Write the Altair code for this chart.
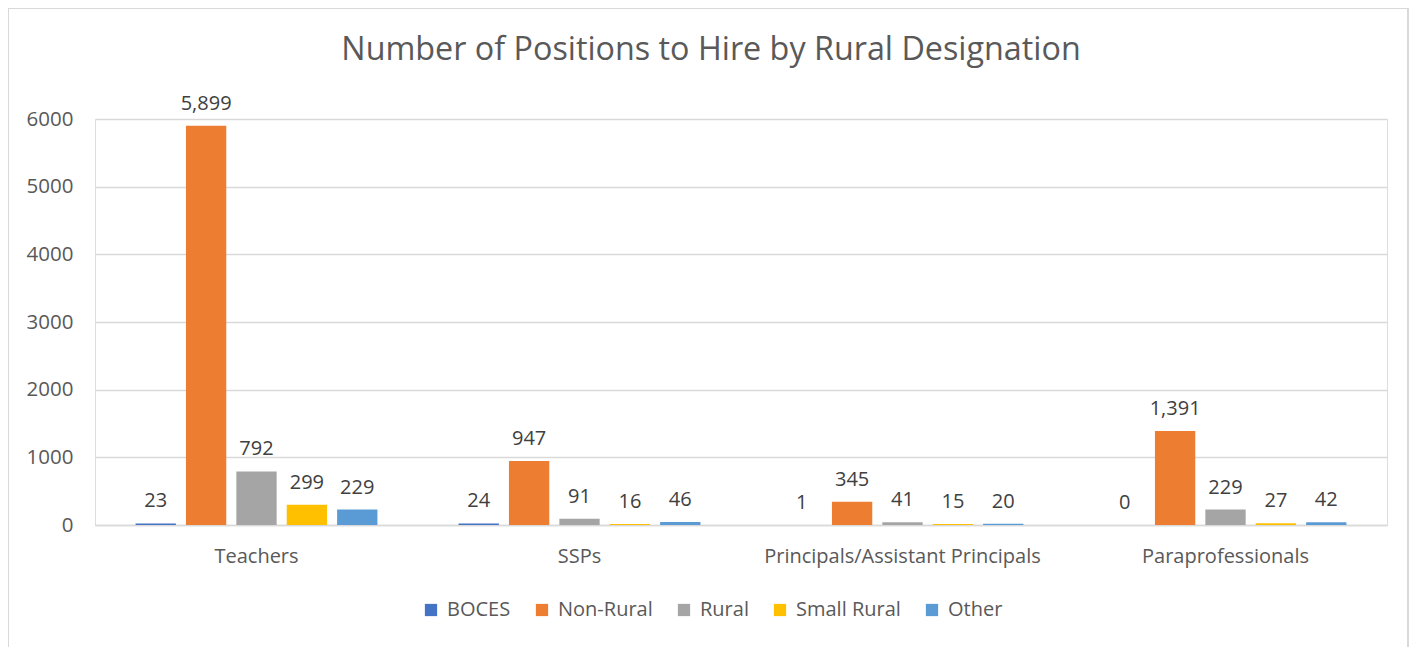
import altair as alt
import pandas as pd

categories = ["Teachers", "SSPs", "Principals/Assistant Principals", "Paraprofessionals"]
series_names = ["BOCES", "Non-Rural", "Rural", "Small Rural", "Other"]
boces = [23, 24, 1, 0]
non_rural = [5899, 947, 345, 1391]
rural = [792, 91, 41, 229]
small_rural = [299, 16, 15, 27]
other = [229, 46, 20, 42]
colors = ["#4472C4", "#ED7D31", "#A5A5A5", "#FFC000", "#5B9BD5"]
y_ticks = [0, 1000, 2000, 3000, 4000, 5000, 6000]

series_values = [boces, non_rural, rural, small_rural, other]
rows = []
for name, vals in zip(series_names, series_values):
    for cat, v in zip(categories, vals):
        rows.append({"category": cat, "series": name, "value": v})
df = pd.DataFrame(rows)

FONT = "Open Sans"
TXT = "#595959"
W, H = 1292, 406

x_enc = alt.X("category:N", sort=categories,
              scale=alt.Scale(paddingInner=0.22, paddingOuter=0.11),
              axis=alt.Axis(title=None, labelAngle=0, labelFontSize=20, labelColor=TXT,
                            labelFont=FONT, ticks=False, domainColor="#d9d9d9",
                            domainWidth=1.5, labelPadding=21, labelLimit=500))
xoff = alt.XOffset("series:N", sort=series_names,
                   scale=alt.Scale(paddingInner=0.2, paddingOuter=0.1))
y_enc = alt.Y("value:Q", scale=alt.Scale(domain=[0, 6000], nice=False),
              axis=alt.Axis(title=None, values=y_ticks, format="d", labelFontSize=20.5,
                            labelColor=TXT, labelFont=FONT, ticks=False, domain=False,
                            gridColor="#d9d9d9", gridWidth=1.5, labelPadding=22))

bars = alt.Chart(df).mark_bar().encode(
    x=x_enc, xOffset=xoff, y=y_enc,
    color=alt.Color("series:N", sort=series_names,
                    scale=alt.Scale(domain=series_names, range=colors),
                    legend=alt.Legend(title=None, orient="none", direction="horizontal",
                                      legendX=326, legendY=481, labelFontSize=20,
                                      labelColor=TXT, labelFont=FONT, symbolType="square",
                                      symbolSize=150, symbolStrokeWidth=0, columnPadding=21,
                                      labelOffset=6)),
)

labels = alt.Chart(df).mark_text(fontSize=20, font=FONT, color="#404040",
                                 baseline="alphabetic", dy=-16).encode(
    x=alt.X("category:N", sort=categories),
    xOffset=alt.XOffset("series:N", sort=series_names),
    y="value:Q",
    text=alt.Text("value:Q", format=","),
)

border = alt.Chart(df).mark_rect(fill=None, stroke="#d9d9d9", strokeWidth=1.5).encode(
    x=alt.value(-87), x2=alt.value(W + 21), y=alt.value(-111), y2=alt.value(H + 140)
)

chart = alt.layer(border, bars, labels).properties(
    width=W, height=H,
    title=alt.TitleParams("Number of Positions to Hire by Rural Designation",
                          fontSize=32.3, font=FONT, fontWeight="normal", color=TXT,
                          anchor="middle", dx=-30, offset=-59),
    padding={"left": 87, "top": 111, "right": 23, "bottom": 122},
    autosize=alt.AutoSizeParams(type="none"),
).configure_view(stroke=None).configure(background="white")

chart.save("out.html", embed_options={"renderer": "svg", "actions": False})
